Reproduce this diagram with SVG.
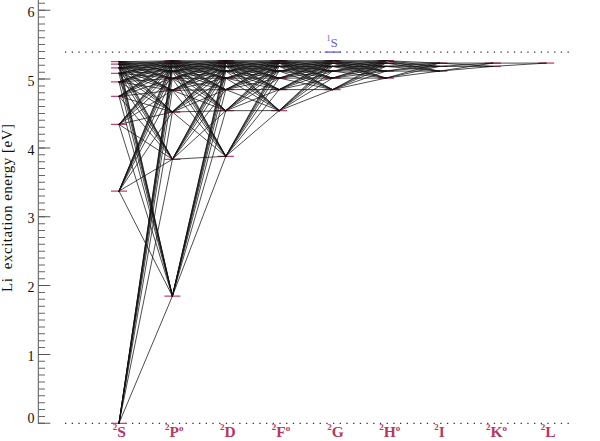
<svg xmlns="http://www.w3.org/2000/svg" width="600" height="441" viewBox="0 0 600 441">
<style>
.num{font-family:'Liberation Serif','Times New Roman',serif;font-size:14px;fill:#111;text-anchor:end}
.term{font-family:'Liberation Serif','Times New Roman',serif;font-size:15.5px;font-weight:bold;fill:#b8365f}
.sup{font-size:9px}
.lvl{stroke:#c8426e;stroke-width:1.3;fill:none}
.tr{stroke:#111;stroke-width:0.75;fill:none;stroke-linecap:round}
.dot{stroke:#333;stroke-width:1.2;stroke-dasharray:1.3 5.4;fill:none}
.ylab{font-family:'Liberation Serif','Times New Roman',serif;font-size:15px;fill:#111}
.lim{font-family:'Liberation Serif','Times New Roman',serif;font-size:13px;fill:#6b5bd8}
</style>
<rect width="600" height="441" fill="#fff"/>
<g id="axis">
<path d="M38.3 0V423.8" stroke="#555" stroke-width="1" fill="none"/>
<path d="M41.65 423.8V0" stroke="#666" stroke-width="6.7" stroke-dasharray="1 5.885" fill="none"/>
<path d="M44.3 423.8V0" stroke="#555" stroke-width="12" stroke-dasharray="1 67.85" fill="none"/>
<text class="num" x="34.5" y="17.3">6</text>
<text class="num" x="34.5" y="85.6">5</text>
<text class="num" x="34.5" y="154.5">4</text>
<text class="num" x="34.5" y="223.3">3</text>
<text class="num" x="34.5" y="292.2">2</text>
<text class="num" x="34.5" y="361">1</text>
<text class="num" x="34.5" y="423">0</text>
<text class="ylab" transform="translate(12,208) rotate(-90)" text-anchor="middle" textLength="168" style="white-space:pre">Li  excitation energy [eV]</text>
</g>
<g id="ref-lines">
<path class="dot" d="M65 52.1H570M65 423.3H570"/>
</g>
<g id="limit-1S">
<path d="M324.6 52.1h16" stroke="#6b5bd8" stroke-width="1.3"/>
<text class="lim" x="326.5" y="47.3"><tspan font-size="8" dy="-6">1</tspan><tspan dy="6">S</tspan></text>
</g>
<g id="term-2S">
<path class="lvl" d="M111 423.3h16M111 191.1h16M111 124.4h16M111 96.3h16M111 81.9h16M111 73.3h16M111 67.9h16M111 64.2h16M111 61.7h16"/>
<text class="term" x="112.7" y="437"><tspan class="sup" dy="-7">2</tspan><tspan dy="7">S</tspan></text>
</g>
<g id="term-2Po">
<path class="lvl" d="M164.4 296.1h16M164.4 159.3h16M164.4 112h16M164.4 90.3h16M164.4 78.4h16M164.4 71.2h16M164.4 66.4h16M164.4 63.1h16M164.4 60.8h16"/>
<text class="term" x="165" y="437"><tspan class="sup" dy="-7">2</tspan><tspan dy="7">P</tspan><tspan class="sup" dy="-6">o</tspan></text>
</g>
<g id="term-2D">
<path class="lvl" d="M217.8 156.3h16M217.8 110.7h16M217.8 89.6h16M217.8 78.2h16M217.8 71.1h16M217.8 66.3h16M217.8 63h16M217.8 60.7h16"/>
<text class="term" x="220" y="437"><tspan class="sup" dy="-7">2</tspan><tspan dy="7">D</tspan></text>
</g>
<g id="term-2Fo">
<path class="lvl" d="M271.2 110.6h16M271.2 89.6h16M271.2 78.1h16M271.2 71.1h16M271.2 66.4h16M271.2 63.1h16M271.2 60.7h16"/>
<text class="term" x="271.7" y="437"><tspan class="sup" dy="-7">2</tspan><tspan dy="7">F</tspan><tspan class="sup" dy="-6">o</tspan></text>
</g>
<g id="term-2G">
<path class="lvl" d="M324.6 89.6h16M324.6 78.1h16M324.6 71.1h16M324.6 66.4h16M324.6 63.1h16M324.6 60.7h16"/>
<text class="term" x="327.3" y="437"><tspan class="sup" dy="-7">2</tspan><tspan dy="7">G</tspan></text>
</g>
<g id="term-2Ho">
<path class="lvl" d="M378 78.1h16M378 71.1h16M378 66.4h16M378 63.1h16M378 60.7h16"/>
<text class="term" x="379.3" y="437"><tspan class="sup" dy="-7">2</tspan><tspan dy="7">H</tspan><tspan class="sup" dy="-6">o</tspan></text>
</g>
<g id="term-2I">
<path class="lvl" d="M431.4 71.1h16M431.4 66.4h16M431.4 63.1h16"/>
<text class="term" x="434.3" y="437"><tspan class="sup" dy="-7">2</tspan><tspan dy="7">I</tspan></text>
</g>
<g id="term-2Ko">
<path class="lvl" d="M484.8 66.4h16M484.8 63.1h16"/>
<text class="term" x="486" y="437"><tspan class="sup" dy="-7">2</tspan><tspan dy="7">K</tspan><tspan class="sup" dy="-6">o</tspan></text>
</g>
<g id="term-2L">
<path class="lvl" d="M538.2 63.1h16"/>
<text class="term" x="540.7" y="437"><tspan class="sup" dy="-7">2</tspan><tspan dy="7">L</tspan></text>
</g>
<g id="connectors">
<path class="tr" id="S-P" d="M119 423.3 172.4 296.1M119 423.3 172.4 159.3M119 423.3 172.4 112M119 423.3 172.4 90.3M119 423.3 172.4 78.4M119 423.3 172.4 71.2M119 423.3 172.4 66.4M119 423.3 172.4 63.1M119 423.3 172.4 60.8
M119 191.1 172.4 296.1M119 191.1 172.4 159.3M119 191.1 172.4 112M119 191.1 172.4 90.3M119 191.1 172.4 78.4M119 191.1 172.4 71.2M119 191.1 172.4 66.4M119 191.1 172.4 63.1M119 191.1 172.4 60.8
M119 124.4 172.4 296.1M119 124.4 172.4 159.3M119 124.4 172.4 112M119 124.4 172.4 90.3M119 124.4 172.4 78.4M119 124.4 172.4 71.2M119 124.4 172.4 66.4M119 124.4 172.4 63.1M119 124.4 172.4 60.8
M119 96.3 172.4 296.1M119 96.3 172.4 159.3M119 96.3 172.4 112M119 96.3 172.4 90.3M119 96.3 172.4 78.4M119 96.3 172.4 71.2M119 96.3 172.4 66.4M119 96.3 172.4 63.1M119 96.3 172.4 60.8
M119 81.9 172.4 296.1M119 81.9 172.4 159.3M119 81.9 172.4 112M119 81.9 172.4 90.3M119 81.9 172.4 78.4M119 81.9 172.4 71.2M119 81.9 172.4 66.4M119 81.9 172.4 63.1M119 81.9 172.4 60.8
M119 73.3 172.4 296.1M119 73.3 172.4 159.3M119 73.3 172.4 112M119 73.3 172.4 90.3M119 73.3 172.4 78.4M119 73.3 172.4 71.2M119 73.3 172.4 66.4M119 73.3 172.4 63.1M119 73.3 172.4 60.8
M119 67.9 172.4 296.1M119 67.9 172.4 159.3M119 67.9 172.4 112M119 67.9 172.4 90.3M119 67.9 172.4 78.4M119 67.9 172.4 71.2M119 67.9 172.4 66.4M119 67.9 172.4 63.1M119 67.9 172.4 60.8
M119 64.2 172.4 296.1M119 64.2 172.4 159.3M119 64.2 172.4 112M119 64.2 172.4 90.3M119 64.2 172.4 78.4M119 64.2 172.4 71.2M119 64.2 172.4 66.4M119 64.2 172.4 63.1M119 64.2 172.4 60.8
M119 61.7 172.4 296.1M119 61.7 172.4 159.3M119 61.7 172.4 112M119 61.7 172.4 90.3M119 61.7 172.4 78.4M119 61.7 172.4 71.2M119 61.7 172.4 66.4M119 61.7 172.4 63.1M119 61.7 172.4 60.8"/>
<path class="tr" id="P-D" d="M172.4 296.1 225.8 156.3M172.4 296.1 225.8 110.7M172.4 296.1 225.8 89.6M172.4 296.1 225.8 78.2M172.4 296.1 225.8 71.1M172.4 296.1 225.8 66.3M172.4 296.1 225.8 63M172.4 296.1 225.8 60.7
M172.4 159.3 225.8 156.3M172.4 159.3 225.8 110.7M172.4 159.3 225.8 89.6M172.4 159.3 225.8 78.2M172.4 159.3 225.8 71.1M172.4 159.3 225.8 66.3M172.4 159.3 225.8 63M172.4 159.3 225.8 60.7
M172.4 112 225.8 156.3M172.4 112 225.8 110.7M172.4 112 225.8 89.6M172.4 112 225.8 78.2M172.4 112 225.8 71.1M172.4 112 225.8 66.3M172.4 112 225.8 63M172.4 112 225.8 60.7
M172.4 90.3 225.8 156.3M172.4 90.3 225.8 110.7M172.4 90.3 225.8 89.6M172.4 90.3 225.8 78.2M172.4 90.3 225.8 71.1M172.4 90.3 225.8 66.3M172.4 90.3 225.8 63M172.4 90.3 225.8 60.7
M172.4 78.4 225.8 156.3M172.4 78.4 225.8 110.7M172.4 78.4 225.8 89.6M172.4 78.4 225.8 78.2M172.4 78.4 225.8 71.1M172.4 78.4 225.8 66.3M172.4 78.4 225.8 63M172.4 78.4 225.8 60.7
M172.4 71.2 225.8 156.3M172.4 71.2 225.8 110.7M172.4 71.2 225.8 89.6M172.4 71.2 225.8 78.2M172.4 71.2 225.8 71.1M172.4 71.2 225.8 66.3M172.4 71.2 225.8 63M172.4 71.2 225.8 60.7
M172.4 66.4 225.8 156.3M172.4 66.4 225.8 110.7M172.4 66.4 225.8 89.6M172.4 66.4 225.8 78.2M172.4 66.4 225.8 71.1M172.4 66.4 225.8 66.3M172.4 66.4 225.8 63M172.4 66.4 225.8 60.7
M172.4 63.1 225.8 156.3M172.4 63.1 225.8 110.7M172.4 63.1 225.8 89.6M172.4 63.1 225.8 78.2M172.4 63.1 225.8 71.1M172.4 63.1 225.8 66.3M172.4 63.1 225.8 63M172.4 63.1 225.8 60.7
M172.4 60.8 225.8 156.3M172.4 60.8 225.8 110.7M172.4 60.8 225.8 89.6M172.4 60.8 225.8 78.2M172.4 60.8 225.8 71.1M172.4 60.8 225.8 66.3M172.4 60.8 225.8 63M172.4 60.8 225.8 60.7"/>
<path class="tr" id="D-F" d="M225.8 156.3 279.2 110.6M225.8 156.3 279.2 89.6M225.8 156.3 279.2 78.1M225.8 156.3 279.2 71.1M225.8 156.3 279.2 66.4M225.8 156.3 279.2 63.1M225.8 156.3 279.2 60.7
M225.8 110.7 279.2 110.6M225.8 110.7 279.2 89.6M225.8 110.7 279.2 78.1M225.8 110.7 279.2 71.1M225.8 110.7 279.2 66.4M225.8 110.7 279.2 63.1M225.8 110.7 279.2 60.7
M225.8 89.6 279.2 110.6M225.8 89.6 279.2 89.6M225.8 89.6 279.2 78.1M225.8 89.6 279.2 71.1M225.8 89.6 279.2 66.4M225.8 89.6 279.2 63.1M225.8 89.6 279.2 60.7
M225.8 78.2 279.2 110.6M225.8 78.2 279.2 89.6M225.8 78.2 279.2 78.1M225.8 78.2 279.2 71.1M225.8 78.2 279.2 66.4M225.8 78.2 279.2 63.1M225.8 78.2 279.2 60.7
M225.8 71.1 279.2 110.6M225.8 71.1 279.2 89.6M225.8 71.1 279.2 78.1M225.8 71.1 279.2 71.1M225.8 71.1 279.2 66.4M225.8 71.1 279.2 63.1M225.8 71.1 279.2 60.7
M225.8 66.3 279.2 110.6M225.8 66.3 279.2 89.6M225.8 66.3 279.2 78.1M225.8 66.3 279.2 71.1M225.8 66.3 279.2 66.4M225.8 66.3 279.2 63.1M225.8 66.3 279.2 60.7
M225.8 63 279.2 110.6M225.8 63 279.2 89.6M225.8 63 279.2 78.1M225.8 63 279.2 71.1M225.8 63 279.2 66.4M225.8 63 279.2 63.1M225.8 63 279.2 60.7
M225.8 60.7 279.2 110.6M225.8 60.7 279.2 89.6M225.8 60.7 279.2 78.1M225.8 60.7 279.2 71.1M225.8 60.7 279.2 66.4M225.8 60.7 279.2 63.1M225.8 60.7 279.2 60.7"/>
<path class="tr" id="F-G" d="M279.2 110.6 332.6 89.6M279.2 110.6 332.6 78.1M279.2 110.6 332.6 71.1M279.2 110.6 332.6 66.4M279.2 110.6 332.6 63.1M279.2 110.6 332.6 60.7
M279.2 89.6 332.6 89.6M279.2 89.6 332.6 78.1M279.2 89.6 332.6 71.1M279.2 89.6 332.6 66.4M279.2 89.6 332.6 63.1M279.2 89.6 332.6 60.7
M279.2 78.1 332.6 89.6M279.2 78.1 332.6 78.1M279.2 78.1 332.6 71.1M279.2 78.1 332.6 66.4M279.2 78.1 332.6 63.1M279.2 78.1 332.6 60.7
M279.2 71.1 332.6 89.6M279.2 71.1 332.6 78.1M279.2 71.1 332.6 71.1M279.2 71.1 332.6 66.4M279.2 71.1 332.6 63.1M279.2 71.1 332.6 60.7
M279.2 66.4 332.6 89.6M279.2 66.4 332.6 78.1M279.2 66.4 332.6 71.1M279.2 66.4 332.6 66.4M279.2 66.4 332.6 63.1M279.2 66.4 332.6 60.7
M279.2 63.1 332.6 89.6M279.2 63.1 332.6 78.1M279.2 63.1 332.6 71.1M279.2 63.1 332.6 66.4M279.2 63.1 332.6 63.1M279.2 63.1 332.6 60.7
M279.2 60.7 332.6 89.6M279.2 60.7 332.6 78.1M279.2 60.7 332.6 71.1M279.2 60.7 332.6 66.4M279.2 60.7 332.6 63.1M279.2 60.7 332.6 60.7"/>
<path class="tr" id="G-H" d="M332.6 89.6 386 78.1M332.6 89.6 386 71.1M332.6 89.6 386 66.4M332.6 89.6 386 63.1M332.6 89.6 386 60.7
M332.6 78.1 386 78.1M332.6 78.1 386 71.1M332.6 78.1 386 66.4M332.6 78.1 386 63.1M332.6 78.1 386 60.7
M332.6 71.1 386 78.1M332.6 71.1 386 71.1M332.6 71.1 386 66.4M332.6 71.1 386 63.1M332.6 71.1 386 60.7
M332.6 66.4 386 78.1M332.6 66.4 386 71.1M332.6 66.4 386 66.4M332.6 66.4 386 63.1M332.6 66.4 386 60.7
M332.6 63.1 386 78.1M332.6 63.1 386 71.1M332.6 63.1 386 66.4M332.6 63.1 386 63.1M332.6 63.1 386 60.7
M332.6 60.7 386 78.1M332.6 60.7 386 71.1M332.6 60.7 386 66.4M332.6 60.7 386 63.1M332.6 60.7 386 60.7"/>
<path class="tr" id="H-I" d="M386 78.1 439.4 71.1M386 78.1 439.4 66.4M386 78.1 439.4 63.1
M386 71.1 439.4 71.1M386 71.1 439.4 66.4M386 71.1 439.4 63.1
M386 66.4 439.4 71.1M386 66.4 439.4 66.4M386 66.4 439.4 63.1
M386 63.1 439.4 71.1M386 63.1 439.4 66.4M386 63.1 439.4 63.1
M386 60.7 439.4 71.1M386 60.7 439.4 66.4M386 60.7 439.4 63.1"/>
<path class="tr" id="I-K" d="M439.4 71.1 492.8 66.4M439.4 71.1 492.8 63.1M439.4 66.4 492.8 66.4M439.4 66.4 492.8 63.1M439.4 63.1 492.8 66.4M439.4 63.1 492.8 63.1"/>
<path class="tr" id="K-L" d="M492.8 66.4 546.2 63.1M492.8 63.1 546.2 63.1"/>
</g>
</svg>
